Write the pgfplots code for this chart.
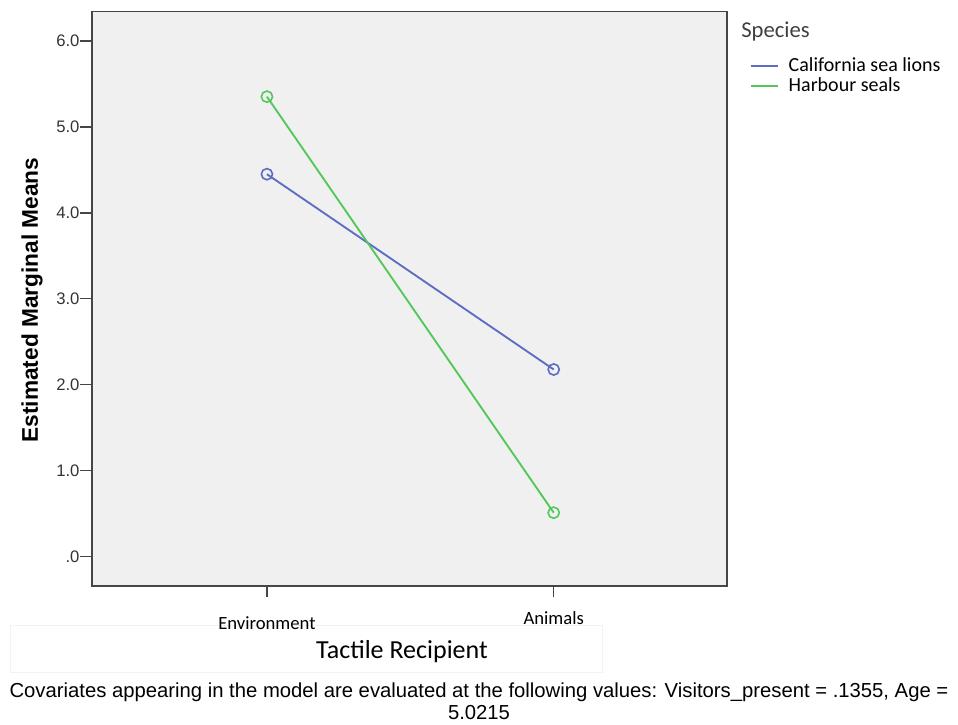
\documentclass[border=0pt]{standalone}
\usepackage{pgfplots}
\pgfplotsset{compat=1.18}
\usepackage{fontspec}
\setmainfont{Liberation Sans}
\newfontfamily\carlito{Carlito}
\definecolor{cslblue}{RGB}{92,110,196}
\definecolor{hsgreen}{RGB}{82,200,92}
\definecolor{plotbg}{RGB}{240,240,240}
\definecolor{framec}{RGB}{70,70,70}
\begin{document}
\begin{tikzpicture}
\useasboundingbox (0,0) rectangle (718.5pt,-543.75pt);
\draw[gray!10, fill=white] (7.5pt,-468.75pt) rectangle (451.5pt,-504pt);
\begin{axis}[
 at={(68.8pt,-439.5pt)}, anchor=south west,
 scale only axis, width=476.6pt, height=430.9pt,
 xmin=-0.611, xmax=1.605, ymin=-0.341, ymax=6.343,
 axis background/.style={fill=plotbg},
 axis line style={framec, line width=1.3pt},
 xtick={0,1}, xticklabels={Environment,\raisebox{3.75pt}{Animals}},
 ytick={0,1,2,3,4,5,6}, yticklabels={.0,1.0,2.0,3.0,4.0,5.0,6.0},
 tick align=outside, tick pos=left, major tick length=8.5pt,
 tick style={framec, line width=1pt},
 yticklabel style={font=\fontsize{12.5}{14}\selectfont, text=black!80, inner sep=0pt, anchor=east, xshift=-0.5pt},
 xticklabel style={font=\carlito\fontsize{14}{16}\selectfont, text=black, anchor=base, yshift=-23.75pt},
 legend style={at={(rel axis cs:1.035,0.92)}, anchor=north west, draw=none, fill=none,
   inner sep=0pt, row sep=2pt, column sep=7.5pt,
   font=\carlito\fontsize{15}{17}\selectfont,
   nodes={inner sep=0pt, anchor=west, text height=10pt, text depth=3pt}},
 legend cell align=left,
 legend image code/.code={\draw[#1, mark=none, line width=1.5pt] (0pt,0pt) -- (20.25pt,0pt);},
 clip=false,
]
\addplot[cslblue, line width=1.4pt, mark=o, mark size=4.2pt, mark options={line width=1.2pt}]
 coordinates {(0,4.450) (1,2.178)};
\addlegendentry{California sea lions}
\addplot[hsgreen, line width=1.4pt, mark=o, mark size=4.2pt, mark options={line width=1.2pt}]
 coordinates {(0,5.352) (1,0.512)};
\addlegendentry{Harbour seals}
\end{axis}
\node[anchor=west, font=\carlito\fontsize{17}{19}\selectfont, text=black!75, inner sep=0pt] at (555.75pt,-24pt) {Species};
\node[rotate=90, font=\bfseries\fontsize{17}{19}\selectfont] at (24pt,-225pt) {Estimated Marginal Means};
\node[font=\carlito\fontsize{19.5}{22}\selectfont] at (301.5pt,-489pt) {Tactile Recipient};
\node[font=\fontsize{15.2}{17}\selectfont] at (359.25pt,-519.5pt) {Covariates appearing in the model are evaluated at the following values: Visitors\_present = .1355, Age =};
\node[font=\fontsize{15.2}{17}\selectfont] at (359.25pt,-534.5pt) {5.0215};
\end{tikzpicture}
\end{document}
